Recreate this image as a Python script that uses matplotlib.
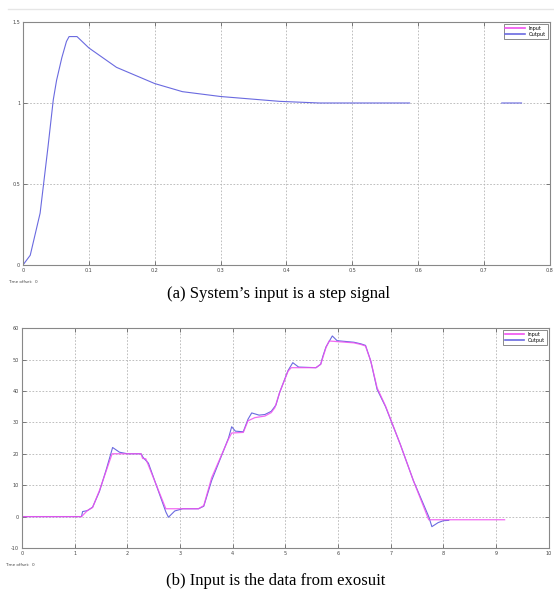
import numpy as np
import matplotlib
matplotlib.use("Agg")
import matplotlib.pyplot as plt
from matplotlib.lines import Line2D

# (a) step response, output only visible (gaps as in the original render)
step_t = [0, 0.011, 0.026, 0.038, 0.046, 0.051, 0.059, 0.066, 0.070, 0.082, 0.1,
          0.142, 0.2, 0.242, 0.3, 0.39, 0.45, 0.587, np.nan, 0.727, 0.757]
step_out = [0, 0.06, 0.32, 0.73, 1.02, 1.14, 1.28, 1.38, 1.41, 1.41, 1.34,
            1.22, 1.12, 1.07, 1.04, 1.01, 1.0, 1.0, np.nan, 1.0, 1.0]
step_xticks = [0, 0.1, 0.2, 0.3, 0.4, 0.5, 0.6, 0.7, 0.8]
step_yticks = [0, 0.5, 1, 1.5]

# (b) exosuit data
exo_t_in = [0, 1.13, 1.24, 1.34, 1.47, 1.71, 2.26, 2.29, 2.35, 2.73, 3.35, 3.45, 3.6,
            3.92, 3.98, 4.2, 4.29, 4.42, 4.61, 4.73, 4.80, 4.89, 5.05, 5.11, 5.58,
            5.67, 5.71, 5.77, 5.83, 6.30, 6.43, 6.52, 6.62, 6.74, 6.90, 7.18, 7.43,
            7.72, 9.16]
exo_in = [0, 0, 1.9, 2.9, 8.3, 20, 20, 18.5, 18.4, 2.5, 2.5, 3.5, 12.4,
          24.7, 26.6, 26.8, 30.5, 31.5, 32, 33.1, 34.7, 39.5, 46.3, 47.4, 47.4,
          48.5, 50.6, 53.8, 55.9, 55.3, 54.8, 54.3, 49.5, 41, 35.2, 23, 11.4,
          -1, -1]
exo_t_out = [0, 1.13, 1.15, 1.24, 1.34, 1.47, 1.60, 1.72, 1.85, 2.0, 2.26, 2.30, 2.40,
             2.73, 2.78, 2.9, 3.05, 3.35, 3.45, 3.6, 3.92, 3.98, 4.05, 4.2, 4.29,
             4.36, 4.5, 4.61, 4.73, 4.82, 4.89, 5.05, 5.14, 5.25, 5.58, 5.67, 5.71,
             5.77, 5.89, 5.98, 6.30, 6.43, 6.52, 6.62, 6.74, 6.90, 7.18, 7.43, 7.72,
             7.78, 7.90, 8.0, 8.1]
exo_out = [0, 0, 1.6, 1.9, 3.0, 8.0, 15, 22, 20.5, 20, 20, 18.8, 17,
           1.5, -0.2, 1.8, 2.5, 2.5, 3.3, 11.5, 25, 28.6, 27.2, 27, 31,
           33, 32.3, 32.5, 33.5, 35.5, 39.5, 46.5, 49, 47.6, 47.4, 48.5, 51,
           54, 57.5, 56, 55.5, 55, 54.5, 49.5, 40.5, 35, 23, 11.4, 0,
           -3.2, -1.9, -1.3, -1.2]
exo_xticks = list(range(0, 11))
exo_yticks = [-10, 0, 10, 20, 30, 40, 50, 60]

C_IN = "#f050f0"
C_OUT = "#6a6ae0"


def style(ax, xticks, yticks, xlim, ylim):
    ax.set_xlim(*xlim)
    ax.set_ylim(*ylim)
    ax.set_xticks(xticks)
    ax.set_yticks(yticks)
    ax.set_xticklabels([f"{v:g}" for v in xticks])
    ax.set_yticklabels([f"{v:g}" for v in yticks])
    ax.tick_params(direction="in", top=True, right=True, length=3, width=0.6,
                   labelsize=3.5, labelcolor="#444", color="#666", pad=2)
    ax.grid(True, color="#b4b4b4", linestyle=(0, (2, 2)), lw=0.6)
    for s in ax.spines.values():
        s.set_color("#888888")
        s.set_linewidth(0.8)
    leg = ax.legend(handles=[Line2D([], [], color=C_IN, lw=1.2, label="Input"),
                             Line2D([], [], color=C_OUT, lw=1.2, label="Output")],
                    loc="upper right", fontsize=3.5, frameon=True, fancybox=False,
                    borderpad=0.4, handlelength=4, labelspacing=0.2,
                    borderaxespad=0.4)
    leg.get_frame().set_edgecolor("#555")
    leg.get_frame().set_linewidth(0.6)


fig = plt.figure(figsize=(5.54, 5.96), dpi=100)
fig.add_artist(Line2D([0.015, 1.0], [0.985, 0.985], color="#e6e6e6", lw=1))

ax1 = fig.add_axes([0.0415, 0.5554, 0.951, 0.4077])
ax1.plot(step_t, step_out, color=C_OUT, lw=0.8)
style(ax1, step_xticks, step_yticks, (0, 0.8), (0, 1.5))

ax2 = fig.add_axes([0.0397, 0.0805, 0.951, 0.369])
ax2.plot(exo_t_out, exo_out, color=C_OUT, lw=0.8)
ax2.plot(exo_t_in, exo_in, color=C_IN, lw=0.9, alpha=0.85)
style(ax2, exo_xticks, exo_yticks, (0, 10), (-10, 60))

fig.text(0.015, 0.526, "Time offset:  0", fontsize=3, color="#444")
fig.text(0.01, 0.051, "Time offset:  0", fontsize=3, color="#444")

fig.text(0.502, 0.506, "(a) System\u2019s input is a step signal", ha="center",
         va="center", fontsize=12, family="Liberation Serif")
fig.text(0.497, 0.025, "(b) Input is the data from exosuit", ha="center",
         va="center", fontsize=12, family="Liberation Serif")

fig.savefig("out.png", dpi=100)
